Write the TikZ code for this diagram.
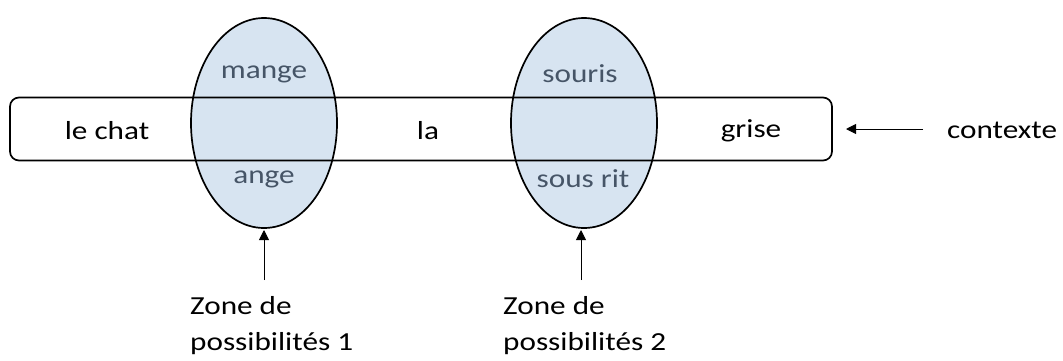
\documentclass[tikz,border=0pt]{standalone}
\usepackage{fontspec}
\setmainfont{Carlito}
\usetikzlibrary{arrows.meta}
\definecolor{zonefill}{HTML}{D7E4F1}
\definecolor{zonetext}{HTML}{465567}
\tikzset{
  word/.style={inner sep=0pt, font=\fontsize{26}{30}\selectfont},
  zoneword/.style={word, text=zonetext},
  zone/.style={draw=black, line width=1.7pt, fill=zonefill},
  ptr/.style={-{Triangle[length=10pt,width=10pt]}, line width=0.9pt},
}
\newcommand{\wscale}[1]{\scalebox{1.2}[1]{#1}}
\begin{document}
\begin{tikzpicture}[x=1pt,y=-1pt]
\useasboundingbox (0,0) rectangle (1063,360);
% zones
\draw[zone] (264,123) ellipse [x radius=73, y radius=105];
\draw[zone] (584,123) ellipse [x radius=73, y radius=105];
\coordinate (z1b) at (264,230);
\coordinate (z2b) at (581,230);
% context band
\node[draw=black, line width=1.7pt, rounded corners=9pt, minimum width=822pt, minimum height=63pt, inner sep=0pt] (ctx) at (421,129) {};
% words
\node[word] (w1) at (107,131) {\wscale{le chat}};
\node[word] (w3) at (428,131) {\wscale{la}};
\node[word] (w5) at (751,131) {\wscale{grise}};
\node[zoneword] (m) at (264,74) {\wscale{mange}};
\node[zoneword] (a) at (264,179) {\wscale{ange}};
\node[zoneword] (s) at (580,74) {\wscale{souris}};
\node[zoneword] (sr) at (583,179) {\wscale{sous rit}};
% labels
\node[word, anchor=west] (ctxl) at (947,130) {\wscale{contexte}};
\coordinate (ctxs) at (923,129);
\coordinate (ctxe) at (846,129);
\draw[ptr] (ctxs) -- (ctxe);
\node[word, anchor=north west, align=left] (l1) at (190,296) {\wscale{Zone de}\\[6pt]\wscale{possibilités 1}};
\node[word, anchor=north west, align=left] (l2) at (503,296) {\wscale{Zone de}\\[6pt]\wscale{possibilités 2}};
\coordinate (a1s) at (264,280);
\coordinate (a2s) at (581,280);
\draw[ptr] (a1s) -- (z1b);
\draw[ptr] (a2s) -- (z2b);
\end{tikzpicture}
\end{document}
